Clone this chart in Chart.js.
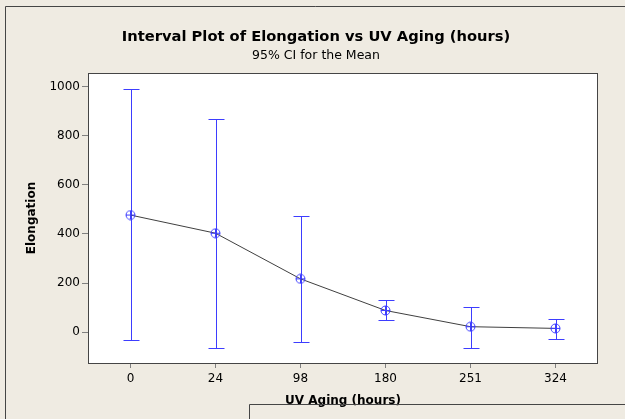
<!DOCTYPE html>
<html>
<head>
<meta charset="utf-8">
<script src="https://cdn.jsdelivr.net/npm/chart.js@4.4.1/dist/chart.umd.min.js"></script>
<style>
  html, body { margin: 0; padding: 0; background: #efebe2; overflow: hidden; }
  #wrap { width: 625px; height: 419px; }
</style>
</head>
<body>
<div id="wrap"><canvas id="chart"></canvas></div>
<script>
// values
const agingHours = ['0', '24', '98', '180', '251', '324'];
const meanElongation = [477, 403, 217, 88, 22, 15];
const ciUpper = [989, 870, 475, 129, 104, 55];
const ciLower = [-31, -63, -41, 49, -64, -27];
const elongationTicks = [0, 200, 400, 600, 800, 1000];

const BLUE = '#3d3dff';
const FONT = 'DejaVu Sans';

// circle with a cross, like minitab's symbol
function makeMarker() {
  const c = document.createElement('canvas');
  c.width = 11;
  c.height = 11;
  const g = c.getContext('2d');
  g.strokeStyle = BLUE;
  g.lineWidth = 1;
  g.beginPath();
  g.arc(5.5, 5.5, 4.5, 0, Math.PI * 2);
  g.stroke();
  g.beginPath();
  g.moveTo(1, 5.5); g.lineTo(10, 5.5);
  g.moveTo(5.5, 1); g.lineTo(5.5, 10);
  g.stroke();
  return c;
}

const backdrop = {
  id: 'backdrop',
  beforeDraw(chart) {
    const { ctx, chartArea: a, width, height } = chart;
    ctx.save();
    ctx.fillStyle = '#efebe2';
    ctx.fillRect(0, 0, width, height);
    ctx.fillStyle = '#ffffff';
    ctx.fillRect(a.left, a.top, a.right - a.left, a.bottom - a.top);
    ctx.restore();
  },
  afterDraw(chart) {
    const { ctx, chartArea: a, width, height } = chart;
    ctx.save();
    ctx.strokeStyle = '#454545';
    ctx.lineWidth = 1;
    ctx.strokeRect(a.left + 0.5, a.top + 0.5, a.right - a.left - 1, a.bottom - a.top);
    // outer frame
    ctx.beginPath();
    ctx.moveTo(5.5, height);
    ctx.lineTo(5.5, 6.5);
    ctx.lineTo(width, 6.5);
    ctx.moveTo(249.5, height);
    ctx.lineTo(249.5, 404.5);
    ctx.lineTo(width, 404.5);
    ctx.stroke();

    ctx.fillStyle = '#000';
    ctx.textAlign = 'center';
    ctx.font = 'bold 14.7px ' + FONT;
    ctx.fillText('Interval Plot of Elongation vs UV Aging (hours)', 316, 41);
    ctx.font = '12.5px ' + FONT;
    ctx.fillText('95% CI for the Mean', 316, 59);
    ctx.restore();
  }
};

const errorBars = {
  id: 'errorBars',
  beforeDatasetsDraw(chart) {
    const { ctx, scales: { x, y } } = chart;
    ctx.save();
    ctx.strokeStyle = BLUE;
    ctx.lineWidth = 1;
    ctx.beginPath();
    agingHours.forEach((h, i) => {
      const px = Math.round(x.getPixelForValue(i)) + 0.5;
      const top = Math.round(y.getPixelForValue(ciUpper[i])) + 0.5;
      const bot = Math.round(y.getPixelForValue(ciLower[i])) + 0.5;
      ctx.moveTo(px, top); ctx.lineTo(px, bot);
      ctx.moveTo(px - 8, top); ctx.lineTo(px + 8, top);
      ctx.moveTo(px - 8, bot); ctx.lineTo(px + 8, bot);
    });
    ctx.stroke();
    ctx.restore();
  }
};

const ctx = document.getElementById('chart').getContext('2d');
new Chart(ctx, {
  type: 'line',
  data: {
    labels: agingHours,
    datasets: [{
      data: meanElongation,
      borderColor: '#404040',
      borderWidth: 1,
      tension: 0,
      pointStyle: makeMarker(),
      pointRadius: 5
    }]
  },
  options: {
    responsive: true,
    maintainAspectRatio: false,
    animation: false,
    layout: { padding: { left: 25, top: 73, right: 27, bottom: 11 } },
    plugins: { legend: { display: false }, tooltip: { enabled: false } },
    scales: {
      x: {
        type: 'category',
        offset: true,
        grid: { drawOnChartArea: false, offset: false, tickLength: 5, color: '#808080' },
        border: { display: false },
        ticks: { color: '#000', padding: 4, font: { family: FONT, size: 12 } },
        title: { display: true, text: 'UV Aging (hours)', color: '#000', padding: 0,
                 font: { family: FONT, size: 12, weight: 'bold' } },
        afterFit(s) { s.height = 45; }
      },
      y: {
        min: -126,
        max: 1056,
        afterBuildTicks(s) { s.ticks = elongationTicks.map(v => ({ value: v })); },
        grid: { drawOnChartArea: false, tickLength: 6, color: '#808080' },
        border: { display: false },
        ticks: { color: '#000', padding: 2, font: { family: FONT, size: 12 },
                 callback: v => String(v) },
        title: { display: true, text: 'Elongation', color: '#000', padding: 0,
                 font: { family: FONT, size: 12, weight: 'bold' } },
        afterFit(s) { s.width = 63; }
      }
    }
  },
  plugins: [backdrop, errorBars]
});
</script>
</body>
</html>
